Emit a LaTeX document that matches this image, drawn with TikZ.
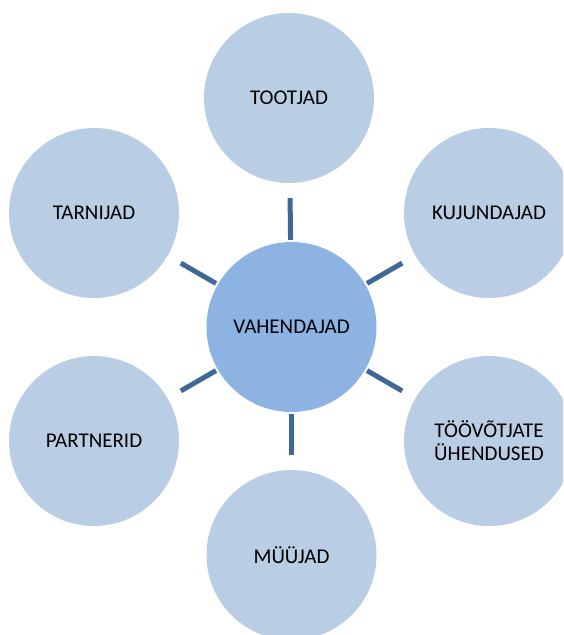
\documentclass[tikz,border=0pt]{standalone}
\usepackage{fontspec}
\setmainfont{Carlito}
\definecolor{outerfill}{HTML}{B9CDE5}
\definecolor{centerfill}{HTML}{8DB3E2}
\definecolor{linkcol}{HTML}{3F6899}
\begin{document}
\begin{tikzpicture}[x=1pt,y=-1pt,
  outer/.style={circle,fill=outerfill,minimum size=170pt,inner sep=0pt,align=center,font=\fontsize{21}{23}\selectfont},
  hub/.style={circle,fill=centerfill,minimum size=170pt,inner sep=0pt,align=center,font=\fontsize{21}{23}\selectfont},
  link/.style={draw=linkcol,line width=5pt,shorten <=2pt,shorten >=15pt}]
\useasboundingbox (0,0) rectangle (563,635);
\clip (0,0) rectangle (563,635);
\fill[white] (0,0) rectangle (563,635);
\node[hub] (c) at (291.5,327) {VAHENDAJAD};
\node[outer] (t) at (289,98) {TOOTJAD};
\node[outer] (k) at (489,213) {KUJUNDAJAD};
\node[outer] (u) at (489,441) {TÖÖVÕTJATE\\ÜHENDUSED};
\node[outer] (m) at (291.5,555) {MÜÜJAD};
\node[outer] (p) at (94,441) {PARTNERID};
\node[outer] (r) at (94,213) {TARNIJAD};
\draw[link] (c) -- (t);
\draw[link] (c) -- (k);
\draw[link] (c) -- (u);
\draw[link] (c) -- (m);
\draw[link] (c) -- (p);
\draw[link] (c) -- (r);
\end{tikzpicture}
\end{document}
